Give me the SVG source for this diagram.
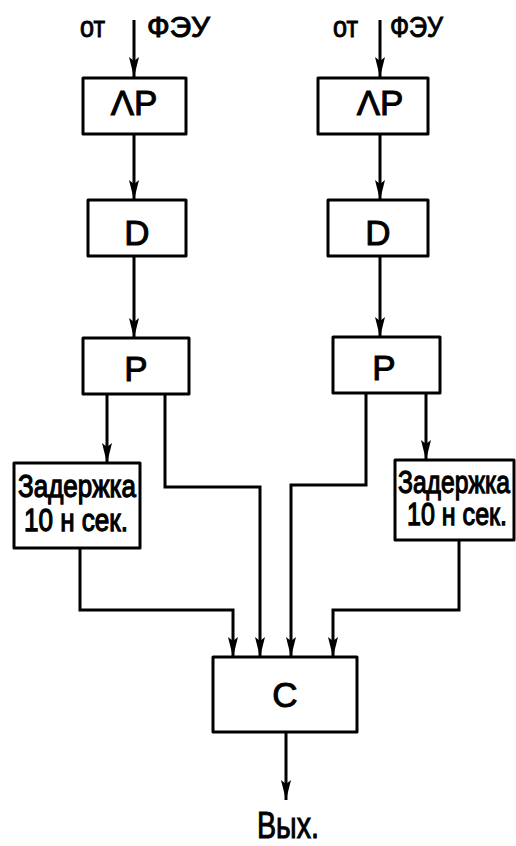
<svg xmlns="http://www.w3.org/2000/svg" width="516" height="846" viewBox="0 0 516 846">
<defs>
<marker id="ah" markerWidth="20" markerHeight="10" refX="20" refY="5" orient="auto" markerUnits="userSpaceOnUse" viewBox="0 0 20 10">
<path d="M0,0 L20,5 L0,10 L4,5 Z" fill="#000"/>
</marker>
<style>
.box{fill:#fff;stroke:#000;stroke-width:3;stroke-linejoin:round}
.ar{fill:none;stroke:#000;stroke-width:3;marker-end:url(#ah)}
text{font-family:"Liberation Sans","DejaVu Sans",sans-serif;fill:#000;stroke:#000;stroke-width:1}
.big{font-size:35px;text-anchor:middle}
.lbl{font-size:30px}
.dl{font-size:25px}
</style>
</defs>
<rect width="516" height="846" fill="#fff"/>
<g id="connectors">
<path class="ar" d="M134,20 V77"/>
<path class="ar" d="M380,20 V77"/>
<path class="ar" d="M134,134 V200"/>
<path class="ar" d="M380,134 V200"/>
<path class="ar" d="M134,256 V338"/>
<path class="ar" d="M380,256 V337"/>
<path class="ar" d="M107,394 V463"/>
<path class="ar" d="M165,394 V487 H260 V657"/>
<path class="ar" d="M426,393 V460"/>
<path class="ar" d="M366,393 V485 H291 V657"/>
<path class="ar" d="M80,548 V610 H233 V657"/>
<path class="ar" d="M459,540 V610 H333 V657"/>
<path class="ar" d="M286,732 V800"/>
</g>
<g id="in-left">
<text class="lbl" x="80" y="37" textLength="25" lengthAdjust="spacingAndGlyphs">от</text>
<text class="lbl" x="147" y="37" textLength="63" lengthAdjust="spacingAndGlyphs">ФЭУ</text>
</g>
<g id="in-right">
<text class="lbl" x="333" y="37" textLength="25" lengthAdjust="spacingAndGlyphs">от</text>
<text class="lbl" x="390" y="37" textLength="53" lengthAdjust="spacingAndGlyphs">ФЭУ</text>
</g>
<g id="lp-left">
<rect class="box" x="83" y="78" width="103" height="56"/>
<text class="big" x="134" y="115">ΛP</text>
</g>
<g id="lp-right">
<rect class="box" x="318" y="78" width="110" height="56"/>
<text class="big" x="380" y="115">ΛP</text>
</g>
<g id="d-left">
<rect class="box" x="88" y="200" width="98" height="56"/>
<text class="big" x="137" y="245">D</text>
</g>
<g id="d-right">
<rect class="box" x="328" y="200" width="100" height="56"/>
<text class="big" x="378" y="245">D</text>
</g>
<g id="p-left">
<rect class="box" x="83" y="338" width="106" height="56"/>
<text class="big" x="136" y="381">P</text>
</g>
<g id="p-right">
<rect class="box" x="333" y="337" width="107" height="56"/>
<text class="big" x="384" y="380">P</text>
</g>
<g id="delay-left">
<rect class="box" x="14" y="463" width="126" height="85"/>
<text class="dl" transform="translate(18,497) scale(1,1.25)" textLength="118" lengthAdjust="spacingAndGlyphs">Задержка</text>
<text class="dl" transform="translate(24,531) scale(1,1.25)" textLength="104" lengthAdjust="spacingAndGlyphs">10 н сек.</text>
</g>
<g id="delay-right">
<rect class="box" x="395" y="460" width="119" height="80"/>
<text class="dl" transform="translate(398,493) scale(1,1.25)" textLength="112" lengthAdjust="spacingAndGlyphs">Задержка</text>
<text class="dl" transform="translate(407,525) scale(1,1.25)" textLength="100" lengthAdjust="spacingAndGlyphs">10 н сек.</text>
</g>
<g id="c">
<rect class="box" x="213" y="657" width="144" height="75"/>
<text class="big" x="285" y="707">C</text>
</g>
<g id="out">
<text x="257" y="838" font-size="36" textLength="62" lengthAdjust="spacingAndGlyphs">Вых.</text>
</g>
</svg>
